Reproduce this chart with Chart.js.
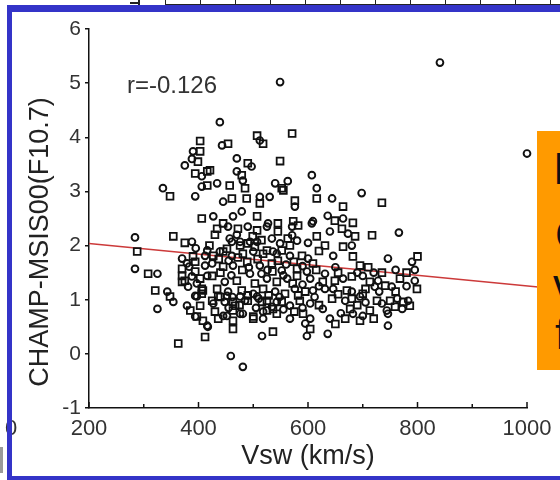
<!DOCTYPE html>
<html>
<head>
<meta charset="utf-8">
<script src="https://cdn.jsdelivr.net/npm/chart.js@4/dist/chart.umd.min.js"></script>
<style>
  html, body { margin:0; padding:0; background:#fff; }
  #wrap { position:relative; width:560px; height:480px; overflow:hidden; font-family:"Liberation Sans", Arial, sans-serif; }
  #c { position:absolute; left:0; top:0; }
  .bar { position:absolute; background:#3434c8; }
  .abs { position:absolute; white-space:nowrap; line-height:1; }
  #topstrip { position:absolute; left:165px; top:0; width:395px; height:5px;
    border-bottom:1.5px solid #222; box-sizing:border-box;
    background:repeating-linear-gradient(90deg, #222 0 1.5px, transparent 1.5px 35px); }
  #ytitle { position:absolute; left:39px; top:242px; font-size:27px; color:#222; white-space:nowrap; line-height:1;
    transform:translate(-50%,-50%) rotate(-90deg); }
  #note { position:absolute; left:537px; top:131px; width:40px; height:239px; background:#ff9a00; }
  .big { font-size:44px; color:#111; }
</style>
</head>
<body>
<div id="wrap">
  <canvas id="c" width="560" height="480"></canvas>

  <!-- scraps of the slide around the figure -->
  <div id="topstrip"></div>
  <div class="abs" style="left:130px;top:2px;width:9px;height:1.5px;background:#222"></div>
  <div class="abs" style="left:138px;top:0;width:2px;height:5px;background:#222"></div>
  <div class="abs" style="left:5px;top:417px;font-size:22px;color:#333">0</div>
  <div class="abs" style="left:0;top:447px;width:3px;height:26px;background:#9a9a9a"></div>

  <div class="bar" style="left:7px;top:5px;width:553px;height:7px"></div>
  <div class="bar" style="left:7px;top:5px;width:5px;height:475px"></div>
  <div class="bar" style="left:7px;top:476px;width:553px;height:4px"></div>

  <div id="ytitle">CHAMP-MSIS00(F10.7)</div>
  <div class="abs" style="left:127px;top:73px;font-size:24px;color:#333">r=-0.126</div>

  <div id="note">
    <div class="abs big" style="left:16px;top:16px">I</div>
    <div class="abs big" style="left:18px;top:82px">C</div>
    <div class="abs big" style="left:16px;top:132px">v</div>
    <div class="abs big" style="left:18px;top:181px">f</div>
  </div>
</div>

<script>
// Vsw (km/s) vs CHAMP-MSIS00(F10.7) density ratio difference, two marker groups
const circlePts = [
  [549,5.02],[841,5.38],[1000,3.70],[439,4.28],[390,3.74],[388,3.60],[375,3.48],[406,3.28],[406,3.09],[335,3.06],
  [394,2.91],[427,2.54],[512,3.94],[443,3.85],[470,3.61],[497,3.46],[607,3.30],[470,3.37],[481,3.20],[434,3.15],
  [540,3.15],[563,3.19],[445,2.81],[512,2.90],[530,2.90],[576,2.72],[616,3.06],[644,2.87],[698,2.97],[479,2.63],
  [527,2.41],[463,2.54],[571,2.35],[607,2.41],[454,2.35],[490,2.35],[525,2.35],[571,2.19],[457,2.13],[534,2.13],
  [636,2.55],[664,2.50],[640,2.26],[766,2.24],[609,2.45],[673,2.22],[284,2.15],[284,1.57],[325,1.48],[343,1.15],
  [354,0.96],[325,0.83],[370,1.76],[412,1.81],[383,1.61],[412,1.63],[388,1.43],[416,1.44],[397,1.30],[394,1.07],
  [379,0.89],[394,0.69],[416,0.52],[388,2.07],[395,1.95],[461,2.07],[494,2.07],[549,2.04],[580,2.09],[461,1.81],
  [500,1.89],[536,1.89],[567,1.81],[600,1.76],[425,1.67],[463,1.63],[512,1.63],[552,1.54],[598,1.52],[448,1.33],
  [494,1.48],[525,1.39],[562,1.39],[604,1.39],[454,1.15],[500,1.11],[540,1.15],[576,1.20],[609,1.17],[448,0.96],
  [485,0.98],[534,0.87],[567,0.89],[604,0.93],[445,0.70],[481,0.74],[518,0.65],[567,0.65],[604,0.65],[516,0.33],
  [595,0.56],[598,0.33],[459,-0.04],[481,-0.24],[646,1.81],[680,2.00],[746,1.76],[631,1.48],[631,1.20],[664,1.39],
  [700,1.44],[728,1.35],[753,1.24],[795,1.35],[646,1.20],[680,1.15],[722,1.24],[668,0.98],[695,1.06],[735,0.93],
  [763,1.02],[783,0.98],[744,0.80],[772,0.83],[627,0.83],[682,0.74],[640,0.65],[746,0.74],[746,0.52],[636,0.37],
  [455,1.72],[492,1.60],[526,1.55],[560,1.65],[590,1.62],[460,1.45],[515,1.48],[555,1.45],[590,1.28],[620,1.25],
  [462,1.05],[510,1.02],[548,1.05],[612,1.05],[455,0.85],[505,0.85],[555,0.82],[590,0.85],[470,2.20],[600,2.05],
  [650,1.60],[690,1.50],[720,1.50],[760,1.55],[790,1.70],[795,1.55],[730,1.15],[780,1.25],[705,0.95],[660,0.75],
  [700,0.70],[379,1.67],[416,1.91],[439,1.89],[476,2.07],[507,2.07],[543,1.85],[381,1.24],[397,1.06],[427,0.93],
  [452,1.07],[476,1.06],[507,1.06],[543,0.96],[417,0.50],[452,0.70],[476,0.74],[518,0.78]
];
const squarePts = [
  [571,4.07],[403,3.93],[403,3.74],[399,3.55],[394,3.33],[416,3.37],[416,3.11],[348,2.91],[406,2.50],[507,4.03],
  [518,3.88],[454,3.88],[490,3.52],[549,3.56],[421,3.39],[479,3.30],[485,3.06],[457,3.11],[552,3.06],[488,2.87],
  [461,2.87],[512,2.78],[576,2.83],[555,3.02],[616,2.87],[664,2.72],[735,2.79],[507,2.54],[445,2.41],[545,2.41],
  [582,2.37],[434,2.31],[472,2.31],[507,2.28],[545,2.26],[616,2.17],[499,2.17],[563,2.13],[649,2.46],[682,2.42],
  [717,2.19],[573,2.45],[662,2.31],[686,2.17],[354,2.17],[308,1.48],[321,1.17],[348,1.06],[363,0.19],[288,1.89],
  [394,1.70],[370,1.57],[394,1.52],[370,1.44],[403,1.39],[370,1.33],[406,1.20],[406,1.11],[385,0.80],[408,0.61],
  [412,0.31],[375,2.05],[420,2.00],[476,2.00],[503,1.98],[567,2.00],[445,1.89],[481,1.85],[518,1.85],[552,1.91],
  [589,1.81],[609,1.67],[445,1.61],[489,1.70],[534,1.67],[580,1.57],[425,1.44],[470,1.35],[503,1.30],[543,1.33],
  [580,1.44],[434,1.20],[479,1.17],[518,1.20],[558,1.11],[595,1.15],[425,0.98],[467,0.89],[516,0.96],[552,0.96],
  [585,0.98],[430,0.78],[463,0.80],[500,0.69],[543,0.74],[591,0.74],[463,0.46],[536,0.41],[604,0.46],[631,2.00],
  [664,1.98],[682,1.80],[695,1.63],[627,1.33],[649,1.35],[680,1.43],[713,1.33],[741,1.26],[768,1.39],[799,1.20],
  [671,1.17],[700,1.11],[644,1.02],[680,1.02],[726,0.98],[750,0.98],[774,0.96],[713,0.80],[759,0.87],[786,0.89],
  [677,0.83],[695,0.61],[668,0.65],[437,1.75],[472,1.78],[508,1.75],[545,1.72],[574,1.70],[440,1.50],[480,1.55],
  [535,1.52],[572,1.30],[615,1.55],[440,1.05],[490,1.08],[528,1.08],[582,1.08],[620,0.90],[475,0.90],[525,0.80],
  [575,0.78],[430,2.20],[515,2.10],[620,1.90],[655,1.50],[710,1.60],[735,1.50],[780,1.50],[800,1.80],[705,1.20],
  [760,1.15],[690,0.90],[655,1.10],[650,0.55],[720,0.65],[390,1.80],[427,1.81],[452,1.94],[490,2.04],[525,1.91],
  [375,1.35],[408,1.17],[403,0.89],[436,1.06],[463,0.96],[490,0.98],[525,0.98],[397,0.69],[436,0.65],[463,0.61],
  [500,0.65],[536,0.83]
];
// linear fit drawn in red (r=-0.126); it runs on past 1000 under the orange note
const fitVsw = [200, 1025];
const fitDiff = [2.04, 1.23];
const xTicks = [200, 400, 600, 800, 1000];
const yTicks = [-1, 0, 1, 2, 3, 4, 5, 6];

const toXY = arr => arr.map(p => ({ x: p[0], y: p[1] }));

// inward tick marks on the x axis (major every 200, minor every 100)
const innerTicks = {
  id: 'innerTicks',
  afterDatasetsDraw(chart) {
    const xs = chart.scales.x, ctx = chart.ctx;
    ctx.save();
    ctx.strokeStyle = '#111';
    ctx.lineWidth = 1.5;
    for (let v = xs.min; v <= xs.max; v += 100) {
      const px = xs.getPixelForValue(v);
      const len = xTicks.includes(v) ? 6 : 4;
      ctx.beginPath();
      ctx.moveTo(px, xs.top);
      ctx.lineTo(px, xs.top - len);
      ctx.stroke();
    }
    ctx.restore();
  }
};

new Chart(document.getElementById('c'), {
  type: 'scatter',
  data: {
    datasets: [
      { label: 'circles', data: toXY(circlePts), pointStyle: 'circle', pointRadius: 3.4,
        borderColor: '#111', borderWidth: 1.9, backgroundColor: 'rgba(0,0,0,0)', order: 1, clip: false },
      { label: 'squares', data: toXY(squarePts), pointStyle: 'rect', pointRadius: 4.8,
        borderColor: '#111', borderWidth: 1.8, backgroundColor: 'rgba(0,0,0,0)', order: 2, clip: false },
      { type: 'line', label: 'fit', data: fitVsw.map((v, i) => ({ x: v, y: fitDiff[i] })),
        borderColor: '#cc3a3a', borderWidth: 1.5, pointRadius: 0, fill: false, order: 3, clip: false }
    ]
  },
  options: {
    responsive: false,
    animation: false,
    events: [],
    layout: { padding: { top: 29, right: 33, bottom: 0, left: 0 } },
    plugins: { legend: { display: false }, tooltip: { enabled: false } },
    scales: {
      x: {
        type: 'linear', min: 200, max: 1000,
        afterFit: s => { s.height = 72; },
        afterBuildTicks: s => { s.ticks = xTicks.map(v => ({ value: v })); },
        grid: { display: false, drawTicks: false },
        border: { display: true, color: '#111', width: 1.5 },
        ticks: { color: '#333', padding: 8, font: { family: 'Liberation Sans', size: 22 },
          callback: v => String(v) },
        title: { display: true, text: 'Vsw (km/s)', color: '#222',
          font: { family: 'Liberation Sans', size: 27 }, padding: { top: 0, bottom: 7 } }
      },
      y: {
        type: 'linear', min: -1, max: 6,
        afterFit: s => { s.width = 89; },
        afterBuildTicks: s => { s.ticks = yTicks.map(v => ({ value: v })); },
        grid: { display: true, drawOnChartArea: false, drawTicks: true, tickLength: 4, color: '#111', lineWidth: 1.5 },
        border: { display: true, color: '#111', width: 1.5 },
        ticks: { color: '#333', padding: 4, font: { family: 'Liberation Sans', size: 21 },
          callback: v => String(v) }
      }
    }
  },
  plugins: [innerTicks]
});
</script>
</body>
</html>
